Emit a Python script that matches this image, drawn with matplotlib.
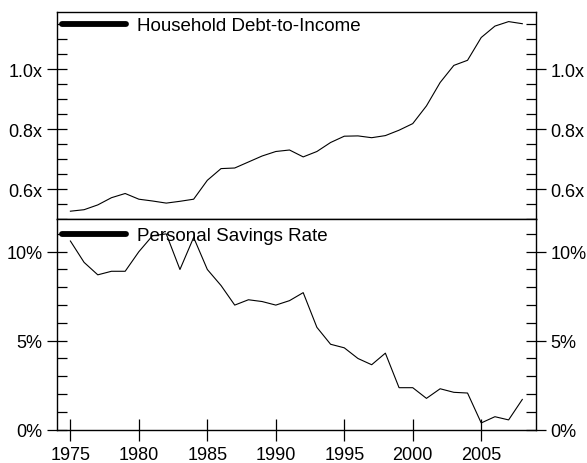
import matplotlib
matplotlib.use("Agg")
import matplotlib.pyplot as plt
from matplotlib.ticker import MultipleLocator, FuncFormatter
from matplotlib.lines import Line2D

plt.rcParams['font.family'] = ['Liberation Sans', 'DejaVu Sans']

years = list(range(1975, 2009))
debt_to_income = [0.527, 0.532, 0.548, 0.572, 0.586, 0.567, 0.561, 0.554, 0.560, 0.567,
                  0.630, 0.669, 0.671, 0.691, 0.711, 0.726, 0.731, 0.708, 0.726, 0.756,
                  0.777, 0.778, 0.772, 0.779, 0.797, 0.819, 0.878, 0.956, 1.013, 1.030,
                  1.106, 1.144, 1.159, 1.152]
savings_rate = [10.6, 9.4, 8.7, 8.9, 8.9, 10.0, 10.9, 11.0, 9.0, 10.8,
                9.0, 8.1, 7.0, 7.3, 7.2, 7.0, 7.25, 7.7, 5.75, 4.8,
                4.6, 4.0, 3.65, 4.3, 2.36, 2.36, 1.76, 2.3, 2.1, 2.06,
                0.38, 0.73, 0.55, 1.7]
series_names = ["Household Debt-to-Income", "Personal Savings Rate"]
xticks = [1975, 1980, 1985, 1990, 1995, 2000, 2005]

FS = 13
LFS = 13.5
W, H = 587, 464
fig = plt.figure(figsize=(W / 100, H / 100), dpi=100)

left = 56.7 / W
width = (536.0 - 56.7) / W
top_y, mid_y, bot_y = 13.3, 220.3, 430.7
ax1 = fig.add_axes([left, 1 - mid_y / H, width, (mid_y - top_y) / H])
ax2 = fig.add_axes([left, 1 - bot_y / H, width, (bot_y - mid_y) / H])

ax1.plot(years, debt_to_income, color='black', lw=0.8)
ax2.plot(years, savings_rate, color='black', lw=0.8)

for ax in (ax1, ax2):
    ax.set_xlim(1974, 2009)
    for s in ax.spines.values():
        s.set_linewidth(1.0)
    ax.tick_params(axis='y', which='major', direction='inout', length=14.4, width=0.9,
                   left=True, right=True, labelleft=True, labelright=True,
                   labelsize=FS, pad=3)
    ax.tick_params(axis='y', which='minor', direction='in', length=7.2, width=0.9,
                   left=True, right=True)

ax1.set_ylim(0.5, 1.19)
ax1.yaxis.set_major_locator(MultipleLocator(0.2))
ax1.yaxis.set_minor_locator(MultipleLocator(0.05))
ax1.yaxis.set_major_formatter(FuncFormatter(lambda v, p: f"{v:.1f}x"))
ax1.tick_params(axis='x', which='both', bottom=False, top=False, labelbottom=False)

ax2.set_ylim(0, 11.82)
ax2.yaxis.set_major_locator(MultipleLocator(5))
ax2.yaxis.set_minor_locator(MultipleLocator(1))
ax2.yaxis.set_major_formatter(FuncFormatter(lambda v, p: f"{v:.0f}%"))
ax2.set_xticks(xticks)
ax2.set_xticklabels([str(x) for x in xticks])
ax2.tick_params(axis='x', which='major', direction='inout', length=16, width=0.9,
                top=False, labelsize=FS, pad=4)

for ax, name, yc in ((ax1, series_names[0], 0.935), (ax2, series_names[1], 0.922)):
    h = Line2D([], [], color='black', lw=4.2, solid_capstyle='round')
    ax.legend([h], [name], loc='center left', bbox_to_anchor=(0.011, yc),
              frameon=False, fontsize=LFS, handlelength=3.4, handletextpad=0.6,
              borderpad=0, borderaxespad=0)

fig.savefig("out.png", dpi=100)
